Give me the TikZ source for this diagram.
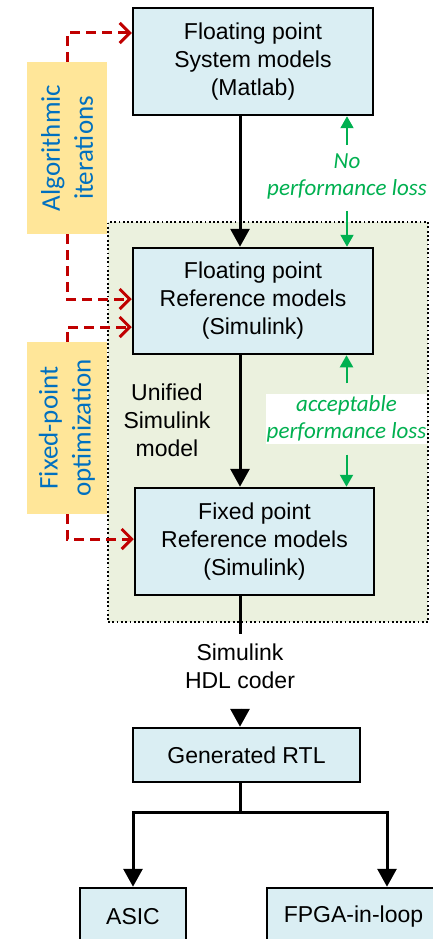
\documentclass[tikz,border=0pt]{standalone}
\usepackage{fontspec}
\setmainfont{Liberation Sans}
\newfontfamily\calibrifont{Carlito}
\usetikzlibrary{arrows.meta,positioning}

\definecolor{modelblue}{HTML}{DAEEF3}
\definecolor{unifiedgreen}{HTML}{EBF1DE}
\definecolor{loopgold}{HTML}{FFE699}
\definecolor{loopblue}{HTML}{0070C0}
\definecolor{loopred}{HTML}{C00000}
\definecolor{lossgreen}{HTML}{00B050}

\tikzset{
  model/.style={draw, line width=2.5pt, fill=modelblue, align=center, inner sep=0pt,
    font=\fontsize{23}{28}\selectfont},
  loopbox/.style={fill=loopgold, text=loopblue, rotate=90, align=center, inner sep=0pt,
    minimum width=172pt, minimum height=80pt, font=\calibrifont\fontsize{27}{33}\selectfont},
  flow/.style={line width=3pt, -{Triangle[width=19pt,length=18pt]}},
  iterate/.style={loopred, line width=3pt, dash pattern=on 10pt off 6pt,
    -{Straight Barb[width=20pt,length=10pt]}},
  loss/.style={lossgreen, line width=2pt, -{Triangle[width=13pt,length=12pt]}},
  losstext/.style={text=lossgreen, align=center, font=\calibrifont\itshape\fontsize{23}{27}\selectfont},
  plain/.style={align=center, font=\fontsize{23}{28}\selectfont}
}

\begin{document}
\begin{tikzpicture}[x=1pt,y=-1pt]
\useasboundingbox (0,0) rectangle (433,939);
\clip (0,0) rectangle (433,939);

\node[draw, fill=unifiedgreen, line width=1.8pt, dash pattern=on 1.8pt off 2.5pt,
  minimum width=320pt, minimum height=400pt] (unified) at (268,422) {};

\node[model, minimum width=240pt, minimum height=107pt] (sysmodel) at (253,61.5) {Floating point\\System models\\(Matlab)};
\node[model, minimum width=240pt, minimum height=106pt] (floatref) at (253,301) {Floating point\\Reference models\\(Simulink)};
\node[model, minimum width=239pt, minimum height=107pt] (fixedref) at (254.5,541.5) {Fixed point\\Reference models\\(Simulink)};
\node[plain] (unitext) at (167,420) {Unified\\Simulink\\model};
\node[plain, inner ysep=9pt] (hdl) at (240,666) {Simulink\\HDL coder};
\node[model, minimum width=227pt, minimum height=54pt] (rtl) at (246.5,755) {Generated RTL};
\node[model, minimum width=106pt, minimum height=58pt] (asic) at (133,917) {ASIC};
\node[model, minimum width=173pt, minimum height=58pt] (fpga) at (353.5,917) {FPGA-in-loop};

\node[loopbox] (algo) at (67,148) {Algorithmic\\iterations};
\node[loopbox] (fixopt) at (67,428) {Fixed-point\\optimization};

\draw[flow] (sysmodel.south -| hdl) -- (floatref.north -| hdl);
\draw[flow] (floatref.south -| hdl) -- (fixedref.north -| hdl);
\draw[line width=3pt] (fixedref.south -| hdl) -- (hdl.north);
\draw[flow, shorten <=11pt] (hdl.south) -- (rtl.north -| hdl);
\draw[flow] (rtl.south -| hdl) -- ++(0,29) -| (asic.north);
\draw[flow] (rtl.south -| hdl) -- ++(0,29) -| ([xshift=33.5pt]fpga.north);

% loop boxes are turned by 90, so east is their top and west their bottom
\draw[iterate] (algo.east) |- ([yshift=28.5pt]sysmodel.west);
\draw[iterate] (algo.west) |- ([yshift=2pt]floatref.west);
\draw[iterate] (fixopt.east) |- ([yshift=-26pt]floatref.west);
\draw[iterate] (fixopt.west) |- ([yshift=2.5pt]fixedref.west);

\node[losstext, inner sep=8pt] (noloss) at (347,176) {No\\performance loss};
\draw[loss] (noloss.north) -- (noloss.north |- sysmodel.south);
\draw[loss, shorten <=4pt] (noloss.south) -- (noloss.south |- floatref.north);

\node[losstext, fill=white, inner xsep=1pt, inner ysep=2pt] (accloss) at (346.5,419) {acceptable\\performance loss};
\draw[loss, shorten <=10pt] (accloss.north) -- (accloss.north |- floatref.south);
\draw[loss, shorten <=10pt] (accloss.south) -- (accloss.south |- fixedref.north);
\end{tikzpicture}
\end{document}
